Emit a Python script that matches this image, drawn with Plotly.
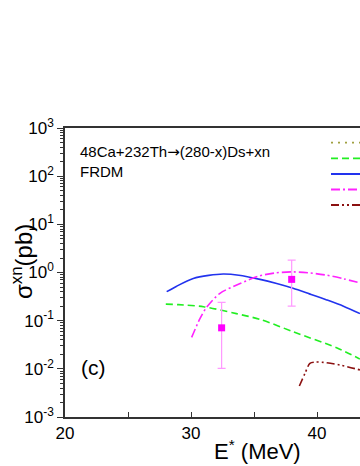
import plotly.graph_objects as go

# ---------------- data ----------------
labels = ["1n", "2n", "3n", "4n", "5n"]

x_1n = []
y_1n = []

x_2n = [28.0, 29.0, 31.0, 33.6, 35.5, 38.1, 41.6, 43.4]
y_2n = [0.22, 0.215, 0.195, 0.14, 0.106, 0.059, 0.027, 0.016]

x_3n = [28.07, 28.86, 30.18, 31.4, 32.56, 33.8, 35.48, 36.8, 38.1, 39.4, 40.77, 42.1, 43.41]
y_3n = [0.40, 0.52, 0.75, 0.87, 0.93, 0.88, 0.72, 0.59, 0.47, 0.36, 0.27, 0.20, 0.14]

x_4n = [30.05, 30.71, 31.24, 32.3, 33.9, 35.35, 36.7, 38.1, 39.4, 40.77, 42.1, 43.41]
y_4n = [0.045, 0.11, 0.19, 0.37, 0.59, 0.84, 0.98, 1.03, 0.98, 0.88, 0.74, 0.61]

x_5n = [38.6, 39.05, 39.44, 39.9, 40.5, 41.83, 43.41]
y_5n = [0.0044, 0.0081, 0.013, 0.0138, 0.0136, 0.012, 0.0095]

x_exp = [32.43, 37.99]
y_exp = [0.071, 0.72]
err_up = [0.24, 1.81]
err_lo = [0.0102, 0.20]

y_tickvals = [1e-3, 1e-2, 1e-1, 1e0, 1e1, 1e2, 1e3]
y_ticktext = ["10<sup>-3</sup>", "10<sup>-2</sup>", "10<sup>-1</sup>", "10<sup>0</sup>",
              "10<sup>1</sup>", "10<sup>2</sup>", "10<sup>3</sup>"]
x_tickvals = [20, 30, 40]

# ---------------- styles ----------------
colors = ["#a0a040", "#22ee22", "#2233ee", "#ff22ff", "#8b1010"]
dashes = ["2px,5px", "7px,4px", "solid", "9px,3px,2px,3px", "8px,3px,2px,3px,2px,3px"]
FONT = "Liberation Sans, Arial, sans-serif"

fig = go.Figure()
series = [(x_1n, y_1n), (x_2n, y_2n), (x_3n, y_3n), (x_4n, y_4n), (x_5n, y_5n)]
for (xs, ys), name, c, d in zip(series, labels, colors, dashes):
    fig.add_trace(go.Scatter(x=xs, y=ys, mode="lines", name=name,
                             line=dict(color=c, width=1.6, dash=d, shape="spline", smoothing=0.8),
                             showlegend=False))

fig.add_trace(go.Scatter(
    x=x_exp, y=y_exp, mode="markers", name="exp",
    marker=dict(symbol="square", size=7, color="#ff00ff"),
    error_y=dict(type="data", symmetric=False,
                 array=[u - v for u, v in zip(err_up, y_exp)],
                 arrayminus=[v - l for v, l in zip(y_exp, err_lo)],
                 color="#ff99ff", thickness=1.2, width=4),
    showlegend=False))

# legend samples (drawn manually, cropped at right like the reference)
PL, PW, PT, PH = 65, 295, 128, 289
leg_y = [142.7, 158.3, 174.0, 189.5, 205.0]
for name, c, d, yy in zip(labels, colors, dashes, leg_y):
    yp = 1 - (yy - PT) / PH
    fig.add_shape(type="line", xref="paper", yref="paper",
                  x0=(331 - PL) / PW, x1=(380 - PL) / PW, y0=yp, y1=yp,
                  line=dict(color=c, width=1.8, dash=d))

fig.add_annotation(xref="paper", yref="paper", x=(78 - PL) / PW, y=1 - (152 - PT) / PH,
                   text="48Ca+232Th<span style='font-family:DejaVu Sans'>\u2192</span>(280-x)Ds+xn",
                   showarrow=False, xanchor="left",
                   yanchor="middle", font=dict(family=FONT, size=15, color="black"))
fig.add_annotation(xref="paper", yref="paper", x=(78 - PL) / PW, y=1 - (171 - PT) / PH,
                   text="FRDM", showarrow=False, xanchor="left",
                   yanchor="middle", font=dict(family=FONT, size=15, color="black"))
fig.add_annotation(xref="paper", yref="paper", x=(79 - PL) / PW, y=1 - (367 - PT) / PH,
                   text="(c)", showarrow=False, xanchor="left",
                   yanchor="middle", font=dict(family=FONT, size=21, color="black"))
fig.add_annotation(xref="paper", yref="paper", x=(257 - PL) / PW, y=1 - (450 - PT) / PH,
                   text="E<sup>*</sup> (MeV)", showarrow=False, xanchor="center",
                   yanchor="middle", font=dict(family=FONT, size=22, color="black"))
fig.add_annotation(xref="paper", yref="paper", x=(22 - PL) / PW, y=1 - (262 - PT) / PH,
                   text="\u03c3<sup>xn</sup>(pb)", showarrow=False, textangle=-90,
                   xanchor="center", yanchor="middle",
                   font=dict(family=FONT, size=24, color="black"))

fig.update_xaxes(range=[20, 20 + PW / 12.6], tickvals=x_tickvals, ticks="inside", ticklen=5,
                 tickwidth=1.3, tickcolor="#333", showline=True, linecolor="#333", linewidth=1.5,
                 mirror=True, showgrid=False, zeroline=False,
                 tickfont=dict(family=FONT, size=17, color="black"),
                 minor=dict(tickvals=[25, 35, 45], ticks="inside", ticklen=5, tickwidth=1.3,
                            tickcolor="#333", showgrid=False))

minor_y = [m * 10 ** e for e in range(-3, 3) for m in range(2, 10)]
fig.update_yaxes(type="log", range=[-3, 3], tickvals=y_tickvals, ticktext=y_ticktext,
                 ticks="outside", ticklen=6, tickwidth=1.3, tickcolor="#333",
                 showline=True, linecolor="#333", linewidth=1.5, mirror=False,
                 showgrid=False, zeroline=False,
                 tickfont=dict(family=FONT, size=17, color="black"),
                 minor=dict(tickvals=minor_y, ticks="outside", ticklen=3, tickwidth=1,
                            tickcolor="#333", showgrid=False))

fig.update_layout(width=360, height=466, margin=dict(l=PL, r=0, t=PT, b=466 - PT - PH),
                  paper_bgcolor="white", plot_bgcolor="white", showlegend=False)

fig.write_html("out.html", config={"displayModeBar": False},
               post_script="document.body.style.margin='0';document.body.style.overflow='hidden';")
